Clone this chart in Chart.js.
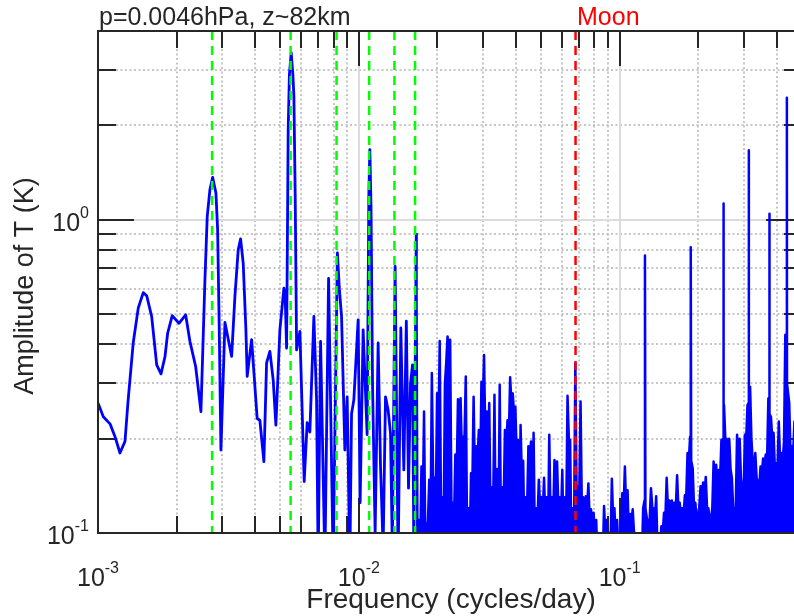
<!DOCTYPE html>
<html>
<head>
<meta charset="utf-8">
<title>Amplitude spectrum of T</title>
<script src="https://cdn.jsdelivr.net/npm/chart.js@4.4.1/dist/chart.umd.min.js"></script>
<style>
    html, body { margin: 0; padding: 0; overflow: hidden; background: #fff; }
    canvas { display: block; }
</style>
</head>
<body>
<canvas id="specChart" width="810" height="616"></canvas>
<script>
// low frequency part of the spectrum (cycles/day, K)
const loFreq = [
    0.001000, 0.001048, 0.001112, 0.001162, 0.001214, 0.001269, 0.001303, 0.001365, 0.001427, 0.001491,
    0.001537, 0.001606, 0.001679, 0.001744, 0.001806, 0.001849, 0.001926, 0.002043, 0.002168, 0.002251,
    0.002368, 0.002481, 0.002570, 0.002623, 0.002686, 0.002751, 0.002832, 0.002875, 0.002916, 0.002960,
    0.003067, 0.003253, 0.003349, 0.003448, 0.003521, 0.003603, 0.003690, 0.003732, 0.003880, 0.004076,
    0.004174, 0.004325, 0.004429, 0.004560, 0.004695, 0.004808, 0.004981, 0.005161, 0.005220, 0.005285,
    0.005360, 0.005417, 0.005504, 0.005587, 0.005637, 0.005702, 0.005773, 0.005943, 0.006173, 0.006338,
    0.006490, 0.006724, 0.006886, 0.006984, 0.007134, 0.007410, 0.007656, 0.007971, 0.008274, 0.008421,
    0.008586, 0.008838, 0.009020, 0.009237, 0.009376, 0.009568, 0.009939, 0.010115, 0.010387, 0.010760,
    0.010922, 0.011019, 0.011136, 0.011285, 0.011547, 0.011857, 0.012109, 0.012390, 0.012655, 0.012948,
    0.013225, 0.013437, 0.013773, 0.014145, 0.014486, 0.014875, 0.015207, 0.015505, 0.015781, 0.016062,
    0.016247, 0.01660
];
const loAmp = [
    0.26, 0.235, 0.223, 0.203, 0.180, 0.196, 0.262, 0.405, 0.523, 0.585,
    0.572, 0.491, 0.344, 0.322, 0.365, 0.434, 0.494, 0.467, 0.497, 0.409,
    0.340, 0.244, 0.643, 1.025, 1.247, 1.365, 1.217, 0.929, 0.45, 0.184,
    0.470, 0.366, 0.569, 0.802, 0.868, 0.727, 0.445, 0.316, 0.414, 0.232,
    0.229, 0.169, 0.349, 0.380, 0.308, 0.221, 0.445, 0.605, 0.569, 0.389,
    1.94, 2.9, 3.41, 2.9, 2.48, 1.187, 0.384, 0.44, 0.146, 0.225,
    0.21, 0.491, 0.266, 0.08, 0.409, 0.08, 0.65, 0.08, 0.783, 0.60,
    0.49, 0.184, 0.272, 0.08, 0.24, 0.266, 0.479, 0.125, 0.445, 0.206,
    1.2, 1.673, 1.1, 0.300, 0.10, 0.404, 0.163, 0.09, 0.272, 0.247,
    0.208, 0.09, 0.709, 0.08, 0.451, 0.159, 0.474, 0.139, 0.300, 0.344,
    0.09, 0.907
];

// high frequency part (dense, drawn filled down to the axis)
const hiFreq = [
    0.01660, 0.01679, 0.01698, 0.01718, 0.01738, 0.01758, 0.01778, 0.01799, 0.01820, 0.01841,
    0.01862, 0.01884, 0.01905, 0.01928, 0.01950, 0.01972, 0.01995, 0.02018, 0.02042, 0.02065,
    0.02089, 0.02113, 0.02138, 0.02163, 0.02188, 0.02213, 0.02239, 0.02265, 0.02291, 0.02317,
    0.02344, 0.02371, 0.02399, 0.02427, 0.02455, 0.02483, 0.02512, 0.02541, 0.02570, 0.02600,
    0.02630, 0.02661, 0.02692, 0.02723, 0.02754, 0.02786, 0.02818, 0.02851, 0.02884, 0.02917,
    0.02951, 0.02985, 0.03020, 0.03055, 0.03090, 0.03126, 0.03162, 0.03199, 0.03236, 0.03273,
    0.03311, 0.03350, 0.03388, 0.03428, 0.03467, 0.03508, 0.03548, 0.03589, 0.03631, 0.03673,
    0.03715, 0.03758, 0.03802, 0.03846, 0.03890, 0.03936, 0.03981, 0.04027, 0.04074, 0.04121,
    0.04169, 0.04217, 0.04266, 0.04315, 0.04365, 0.04416, 0.04467, 0.04519, 0.04571, 0.04624,
    0.04677, 0.04732, 0.04786, 0.04842, 0.04898, 0.04955, 0.05012, 0.05070, 0.05129, 0.05188,
    0.05248, 0.05309, 0.05370, 0.05433, 0.05495, 0.05559, 0.05623, 0.05689, 0.05754, 0.05821,
    0.05888, 0.05957, 0.06026, 0.06095, 0.06166, 0.06237, 0.06310, 0.06383, 0.06457, 0.06531,
    0.06607, 0.06683, 0.06761, 0.06839, 0.06918, 0.06998, 0.07079, 0.07161, 0.07244, 0.07328,
    0.07413, 0.07499, 0.07586, 0.07674, 0.07762, 0.07852, 0.07943, 0.08035, 0.08128, 0.08222,
    0.08318, 0.08414, 0.08511, 0.08610, 0.08710, 0.08810, 0.08913, 0.09016, 0.09120, 0.09226,
    0.09333, 0.09441, 0.09550, 0.09661, 0.09772, 0.09886, 0.1000, 0.1012, 0.1023, 0.1035,
    0.1047, 0.1059, 0.1072, 0.1084, 0.1096, 0.1109, 0.1122, 0.1135, 0.1148, 0.1161,
    0.1175, 0.1189, 0.1202, 0.1216, 0.1230, 0.1245, 0.1250, 0.1255, 0.1274, 0.1288,
    0.1303, 0.1318, 0.1334, 0.1349, 0.1365, 0.1380, 0.1396, 0.1413, 0.1429, 0.1445,
    0.1462, 0.1479, 0.1496, 0.1514, 0.1531, 0.1549, 0.1567, 0.1585, 0.1603, 0.1622,
    0.1641, 0.1660, 0.1679, 0.1698, 0.1718, 0.1738, 0.1758, 0.1778, 0.1799, 0.1820,
    0.1841, 0.1862, 0.1870, 0.1875, 0.1880, 0.1905, 0.1928, 0.1950, 0.1972, 0.1995,
    0.2018, 0.2042, 0.2065, 0.2089, 0.2113, 0.2138, 0.2163, 0.2188, 0.2213, 0.2239,
    0.2265, 0.2291, 0.2317, 0.2344, 0.2371, 0.2399, 0.2427, 0.2455, 0.2495, 0.2500,
    0.2505, 0.2512, 0.2541, 0.2570, 0.2600, 0.2630, 0.2661, 0.2692, 0.2723, 0.2754,
    0.2786, 0.2818, 0.2851, 0.2884, 0.2917, 0.2951, 0.2985, 0.3020, 0.3055, 0.3090,
    0.3120, 0.3125, 0.3130, 0.3162, 0.3199, 0.3236, 0.3273, 0.3311, 0.3350, 0.3388,
    0.3428, 0.3467, 0.3508, 0.3548, 0.3589, 0.3631, 0.3673, 0.3715, 0.3745, 0.3750,
    0.3755, 0.3802, 0.3846, 0.3890, 0.3936, 0.3981, 0.4027, 0.4074, 0.4121, 0.4169,
    0.4217, 0.4266, 0.4315, 0.4370, 0.4375, 0.4380, 0.4416, 0.4467, 0.4519, 0.4571,
    0.4624, 0.4677, 0.4732, 0.4786, 0.4842, 0.4898, 0.4955, 0.5000
];
const hiAmp = [
    0.907, 0.08, 0.11, 0.085, 0.163, 0.12, 0.244, 0.09, 0.10, 0.11,
    0.148, 0.11, 0.324, 0.14, 0.15, 0.12, 0.279, 0.20, 0.41, 0.12,
    0.13, 0.10, 0.30, 0.35, 0.424, 0.38, 0.414, 0.12, 0.125, 0.11,
    0.178, 0.15, 0.267, 0.20, 0.269, 0.18, 0.203, 0.20, 0.316, 0.10,
    0.12, 0.09, 0.155, 0.14, 0.272, 0.15, 0.189, 0.17, 0.213, 0.15,
    0.304, 0.25, 0.370, 0.20, 0.244, 0.20, 0.26, 0.11, 0.14, 0.12,
    0.276, 0.09, 0.16, 0.09, 0.297, 0.10, 0.14, 0.12, 0.213, 0.19,
    0.229, 0.20, 0.314, 0.26, 0.279, 0.24, 0.253, 0.18, 0.198, 0.09,
    0.221, 0.15, 0.17, 0.09, 0.13, 0.12, 0.189, 0.17, 0.196, 0.12,
    0.209, 0.09, 0.12, 0.11, 0.148, 0.12, 0.13, 0.115, 0.150, 0.11,
    0.13, 0.09, 0.206, 0.11, 0.13, 0.11, 0.171, 0.15, 0.169, 0.12,
    0.13, 0.11, 0.159, 0.09, 0.13, 0.11, 0.274, 0.20, 0.198, 0.09,
    0.12, 0.10, 0.348, 0.13, 0.141, 0.13, 0.263, 0.12, 0.13, 0.11,
    0.131, 0.12, 0.144, 0.11, 0.119, 0.11, 0.116, 0.10, 0.11, 0.08,
    0.10, 0.08, 0.09, 0.08, 0.122, 0.10, 0.11, 0.08, 0.10, 0.09,
    0.149, 0.11, 0.12, 0.09, 0.11, 0.09, 0.10, 0.10, 0.134, 0.12,
    0.163, 0.12, 0.137, 0.10, 0.115, 0.11, 0.119, 0.10, 0.10, 0.08,
    0.09, 0.08, 0.09, 0.08, 0.12, 0.127, 0.769, 0.12, 0.11, 0.11,
    0.11, 0.139, 0.12, 0.12, 0.11, 0.131, 0.09, 0.09, 0.09, 0.105,
    0.10, 0.116, 0.11, 0.150, 0.12, 0.127, 0.12, 0.127, 0.115, 0.125,
    0.12, 0.153, 0.12, 0.125, 0.115, 0.12, 0.115, 0.132, 0.13, 0.180,
    0.17, 0.203, 0.20, 0.816, 0.17, 0.161, 0.12, 0.125, 0.11, 0.115,
    0.12, 0.141, 0.13, 0.145, 0.13, 0.151, 0.12, 0.12, 0.11, 0.11,
    0.12, 0.169, 0.15, 0.165, 0.14, 0.159, 0.15, 0.198, 0.20, 1.125,
    0.25, 0.256, 0.20, 0.20, 0.19, 0.200, 0.16, 0.15, 0.12, 0.12,
    0.12, 0.206, 0.17, 0.20, 0.15, 0.137, 0.13, 0.206, 0.20, 0.256,
    0.26, 1.665, 0.29, 0.293, 0.20, 0.169, 0.16, 0.180, 0.15, 0.145,
    0.14, 0.163, 0.155, 0.173, 0.165, 0.178, 0.17, 0.269, 0.27, 1.045,
    0.24, 0.235, 0.20, 0.209, 0.16, 0.167, 0.16, 0.227, 0.17, 0.18,
    0.17, 0.196, 0.429, 0.43, 2.45, 0.30, 0.30, 0.26, 0.18, 0.189,
    0.18, 0.227, 0.20, 0.21, 0.19, 0.22, 0.20, 0.30
];

// reference lines: annual harmonics (k/365.25) and the lunar one
const annualHarmonics = [0.002738, 0.005476, 0.008214, 0.010951, 0.013689, 0.016427];
const moonFreq = 0.06773;

// axis ticks
const xMajorTicks = [0.001, 0.01, 0.1];
const xTickExp = ["-3", "-2", "-1"];
const xMinorTicks = [0.002, 0.003, 0.004, 0.005, 0.006, 0.007, 0.008, 0.009,
                     0.02, 0.03, 0.04, 0.05, 0.06, 0.07, 0.08, 0.09, 0.2, 0.3, 0.4];
const yMajorTicks = [0.1, 1];
const yTickExp = ["-1", "0"];
const yMinorTicks = [0.2, 0.3, 0.4, 0.5, 0.6, 0.7, 0.8, 0.9, 2, 3];

const FONT = '"Liberation Sans", Arial, Helvetica, sans-serif';
const INK = "#262626";

function toPoints(xs, ys) {
    let n = Math.min(xs.length, ys.length);
    let pts = [];
    for (let i = 0; i < n; i++) pts.push({ x: xs[i], y: ys[i] });
    return pts;
}

function vline(f, color) {
    return {
        data: [{ x: f, y: 4 }, { x: f, y: 0.1 }],
        borderColor: color,
        borderWidth: 2.5,
        borderDash: [9, 6],
        pointRadius: 0,
        fill: false,
        clip: 0
    };
}

function seg(ctx, x1, y1, x2, y2) {
    ctx.beginPath();
    ctx.moveTo(x1, y1);
    ctx.lineTo(x2, y2);
    ctx.stroke();
}

// "10" with a raised exponent
function drawPow(ctx, exp, x, y, align) {
    ctx.font = "25px " + FONT;
    let wb = ctx.measureText("10").width;
    ctx.font = "16px " + FONT;
    let we = ctx.measureText(exp).width;
    let x0 = align === "center" ? x - (wb + we) / 2 : x - wb - we;
    ctx.textAlign = "left";
    ctx.textBaseline = "alphabetic";
    ctx.font = "25px " + FONT;
    ctx.fillText("10", x0, y);
    ctx.font = "16px " + FONT;
    ctx.fillText(exp, x0 + wb, y - 13);
}

const matlabAxes = {
    id: "matlabAxes",
    beforeDatasetsDraw(chart) {
        const { ctx, chartArea: a } = chart;
        const xs = chart.scales.x, ys = chart.scales.y;
        ctx.save();

        // dotted minor grid
        ctx.strokeStyle = "#b4b4b4";
        ctx.lineWidth = 1.5;
        ctx.setLineDash([2, 2.5]);
        xMinorTicks.forEach(v => {
            let px = Math.round(xs.getPixelForValue(v));
            seg(ctx, px, a.top, px, a.bottom);
        });
        yMinorTicks.forEach(v => {
            let py = Math.round(ys.getPixelForValue(v));
            seg(ctx, a.left, py, a.right, py);
        });

        // solid major grid
        ctx.setLineDash([]);
        ctx.strokeStyle = "#dcdcdc";
        ctx.lineWidth = 2;
        xMajorTicks.forEach(v => {
            let px = Math.round(xs.getPixelForValue(v));
            if (px > a.left + 2 && px < a.right - 2) seg(ctx, px, a.top, px, a.bottom);
        });
        yMajorTicks.forEach(v => {
            let py = Math.round(ys.getPixelForValue(v));
            if (py > a.top + 2 && py < a.bottom - 2) seg(ctx, a.left, py, a.right, py);
        });

        // tick marks, pointing inwards on all four sides
        ctx.strokeStyle = INK;
        ctx.lineWidth = 2;
        const tick = (vals, len) => {
            vals.forEach(v => {
                let px = Math.round(xs.getPixelForValue(v));
                seg(ctx, px, a.top, px, a.top + len);
                seg(ctx, px, a.bottom, px, a.bottom - len);
            });
        };
        const ytick = (vals, len) => {
            vals.forEach(v => {
                let py = Math.round(ys.getPixelForValue(v));
                seg(ctx, a.left, py, a.left + len, py);
                seg(ctx, a.right, py, a.right - len, py);
            });
        };
        tick(xMinorTicks, 17);
        tick(xMajorTicks, 35);
        ytick(yMinorTicks, 18);
        ytick(yMajorTicks, 36);
        ctx.restore();
    },
    afterDatasetsDraw(chart) {
        const { ctx, chartArea: a } = chart;
        const xs = chart.scales.x, ys = chart.scales.y;
        ctx.save();

        ctx.strokeStyle = INK;
        ctx.lineWidth = 2;
        ctx.strokeRect(a.left, a.top, a.right - a.left, a.bottom - a.top);

        ctx.fillStyle = INK;
        xMajorTicks.forEach((v, i) => {
            drawPow(ctx, xTickExp[i], xs.getPixelForValue(v), 586, "center");
        });
        yMajorTicks.forEach((v, i) => {
            drawPow(ctx, yTickExp[i], 89, ys.getPixelForValue(v) + 11, "right");
        });

        ctx.textAlign = "center";
        ctx.textBaseline = "alphabetic";
        ctx.font = "28px " + FONT;
        ctx.fillText("Frequency (cycles/day)", 451, 608);

        ctx.save();
        ctx.font = "27px " + FONT;
        ctx.translate(33, 286);
        ctx.rotate(-Math.PI / 2);
        ctx.fillText("Amplitude of T (K)", 0, 0);
        ctx.restore();

        ctx.font = "25px " + FONT;
        ctx.textAlign = "left";
        ctx.fillText("p=0.0046hPa, z~82km", 99, 25);

        ctx.fillStyle = "#ff0000";
        ctx.fillText("Moon", Math.round(xs.getPixelForValue(moonFreq)) + 1, 25);
        ctx.restore();
    }
};

let datasets = [];
annualHarmonics.forEach(f => datasets.push(vline(f, "#00ff00")));
datasets.push(vline(moonFreq, "#ff0000"));
datasets.push({
    data: toPoints(loFreq, loAmp),
    borderColor: "#0000ff",
    borderWidth: 2.8,
    borderJoinStyle: "round",
    pointRadius: 0,
    tension: 0,
    fill: false,
    clip: 0
});
datasets.push({
    data: toPoints(hiFreq, hiAmp),
    borderColor: "#0000ff",
    backgroundColor: "#0000ff",
    borderWidth: 2.5,
    borderJoinStyle: "round",
    pointRadius: 0,
    tension: 0,
    fill: "start",
    clip: 0
});

let ctx = document.getElementById("specChart").getContext("2d");

new Chart(ctx, {
    type: "line",
    data: { datasets: datasets },
    options: {
        responsive: false,
        animation: false,
        devicePixelRatio: 1,
        layout: { padding: { left: 98, top: 31, right: 8, bottom: 83 } },
        plugins: {
            legend: { display: false },
            tooltip: { enabled: false }
        },
        scales: {
            x: { type: "logarithmic", min: 0.001, max: 0.5, display: false },
            y: { type: "logarithmic", min: 0.1, max: 4, display: false }
        }
    },
    plugins: [matlabAxes]
});
</script>
</body>
</html>
